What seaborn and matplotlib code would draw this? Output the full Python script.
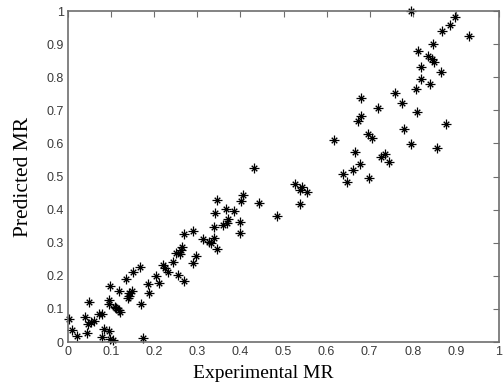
import numpy as np
import pandas as pd
import matplotlib
matplotlib.use("Agg")
import matplotlib.pyplot as plt
import seaborn as sns

# 실험값 (Experimental MR)
exp_mr = [
    0.003, 0.009, 0.021, 0.044, 0.040, 0.048, 0.046, 0.054, 0.060, 0.073,
    0.079, 0.083, 0.094, 0.079, 0.098, 0.104, 0.094, 0.096, 0.098, 0.108,
    0.112, 0.119, 0.121, 0.119, 0.135, 0.141, 0.142, 0.139, 0.148, 0.150,
    0.166, 0.169, 0.174, 0.186, 0.189, 0.203, 0.212,
    0.220, 0.225, 0.233, 0.243, 0.250, 0.259, 0.262, 0.264, 0.256, 0.269,
    0.268, 0.289, 0.291, 0.298, 0.314, 0.328, 0.331, 0.339, 0.345, 0.341,
    0.339, 0.359, 0.366, 0.370, 0.372, 0.384, 0.399, 0.399, 0.345, 0.401,
    0.405, 0.444, 0.486,
    0.432, 0.527, 0.542, 0.538, 0.555, 0.538,
    0.618, 0.639, 0.647, 0.662, 0.666, 0.677, 0.699, 0.681, 0.681, 0.674,
    0.697, 0.705, 0.720, 0.726, 0.736, 0.745,
    0.759, 0.774, 0.807, 0.809, 0.780, 0.795, 0.857, 0.877, 0.818, 0.840,
    0.818, 0.865, 0.811, 0.836, 0.844, 0.849, 0.848, 0.867, 0.886, 0.898,
    0.931, 0.797,
]

# 예측값 (Predicted MR)
pred_mr = [
    0.069, 0.036, 0.018, 0.026, 0.076, 0.120, 0.054, 0.061, 0.064, 0.084,
    0.085, 0.040, 0.033, 0.014, 0.008, 0.006, 0.127, 0.115, 0.170, 0.107,
    0.102, 0.097, 0.092, 0.154, 0.189, 0.149, 0.139, 0.134, 0.155, 0.212,
    0.228, 0.114, 0.013, 0.175, 0.149, 0.199, 0.179,
    0.233, 0.223, 0.212, 0.243, 0.270, 0.266, 0.278, 0.288, 0.202, 0.185,
    0.325, 0.336, 0.238, 0.260, 0.310, 0.303, 0.298, 0.313, 0.280, 0.391,
    0.348, 0.353, 0.401, 0.359, 0.371, 0.396, 0.364, 0.330, 0.430, 0.425,
    0.445, 0.419, 0.381,
    0.525, 0.479, 0.469, 0.459, 0.453, 0.418,
    0.609, 0.508, 0.484, 0.520, 0.575, 0.538, 0.497, 0.736, 0.683, 0.669,
    0.630, 0.618, 0.706, 0.559, 0.569, 0.545,
    0.752, 0.723, 0.764, 0.696, 0.645, 0.598, 0.586, 0.659, 0.796, 0.779,
    0.832, 0.815, 0.880, 0.864, 0.854, 0.847, 0.902, 0.941, 0.958, 0.983,
    0.924, 1.000,
]

tick_vals = [0, 0.1, 0.2, 0.3, 0.4, 0.5, 0.6, 0.7, 0.8, 0.9, 1]
tick_labels = ["0", "0.1", "0.2", "0.3", "0.4", "0.5", "0.6", "0.7", "0.8", "0.9", "1"]

df = pd.DataFrame({"exp": exp_mr, "pred": pred_mr})

sns.set_style("white")
plt.rcParams["font.family"] = ["Liberation Sans", "DejaVu Sans"]

fig = plt.figure(figsize=(5.04, 3.83), dpi=100)
ax = fig.add_axes([0.135, 0.107, 0.855, 0.864])

# MATLAB '*' 마커 흉내: 긴 + 와 짧은 x 를 겹쳐 그림
sns.scatterplot(data=df, x="exp", y="pred", ax=ax, marker="+",
                color="black", s=55, linewidth=0.9, legend=False, clip_on=False)
sns.scatterplot(data=df, x="exp", y="pred", ax=ax, marker="x",
                color="black", s=16, linewidth=1.0, legend=False, clip_on=False)

ax.set_xlim(0, 1)
ax.set_ylim(0, 1)
ax.set_xticks(tick_vals)
ax.set_xticklabels(tick_labels)
ax.set_yticks(tick_vals)
ax.set_yticklabels(tick_labels)

# MATLAB 스타일 축
for sp in ax.spines.values():
    sp.set_visible(True)
    sp.set_color("#6e6e6e")
    sp.set_linewidth(1.2)
ax.tick_params(direction="in", length=4, width=0.8, color="#6e6e6e",
               labelsize=9, labelcolor="#3a3a3a", top=True, right=True,
               labeltop=False, labelright=False, pad=3)

ax.set_xlabel("Experimental MR", family="Liberation Serif", fontsize=14, color="black")
ax.set_ylabel("Predicted MR", family="Liberation Serif", fontsize=15.5, color="black")
ax.xaxis.label.set_va("center")
ax.yaxis.label.set_va("center")
ax.xaxis.set_label_coords(0.452, -0.094)
ax.yaxis.set_label_coords(-0.104, 0.5)

plt.savefig("out.png", dpi=100)
